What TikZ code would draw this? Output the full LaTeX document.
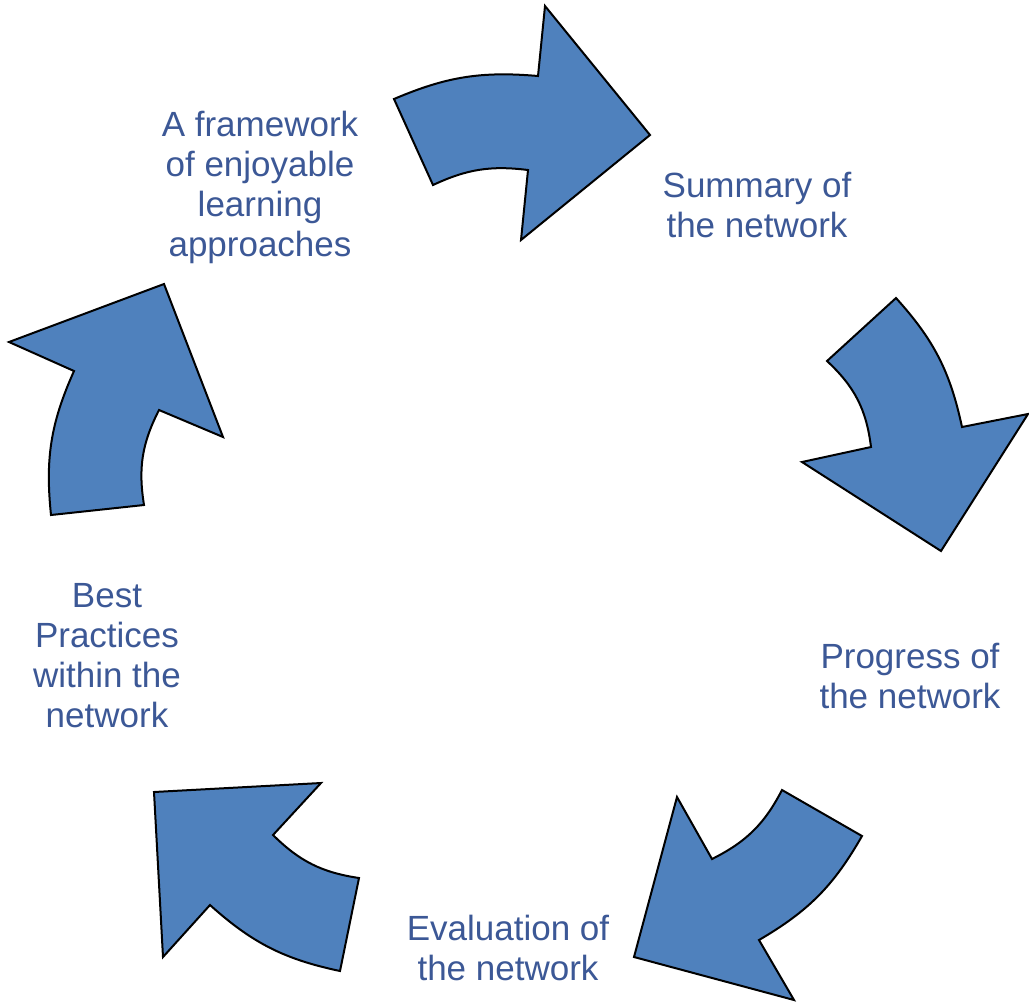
\documentclass[tikz,border=0pt]{standalone}
\usepackage{fontspec}
\setmainfont{Liberation Sans}
\usetikzlibrary{positioning}
\definecolor{arrowblue}{RGB}{79,129,189}
\definecolor{labelblue}{RGB}{60,88,150}

\begin{document}
\begin{tikzpicture}[x=0.5pt, y=-0.5pt,
    cyclearrow/.style={fill=arrowblue, draw=black, line width=1pt, line join=miter},
    steplabel/.style={text=labelblue, align=center, inner sep=0pt,
        font=\fontsize{17.5}{20}\selectfont}]
    \useasboundingbox (0,0) rectangle (1029,1003);

    % Arrows (clockwise)
    \draw[cyclearrow] (394,99) to[bend left=14] (538,76) -- (545,6) -- (650,135)
        -- (521,240) -- (528,170) to[bend right=16] (433,185) -- cycle; % top
    \draw[cyclearrow] (896,298) to[bend left=15] (962,427) -- (1028,414) -- (941,551)
        -- (802,462) -- (871,447) to[bend right=20] (827,361) -- cycle; % right
    \draw[cyclearrow] (862,836) to[bend left=15] (759,940) -- (794,1000) -- (634,957)
        -- (677,797) -- (712,859) to[bend right=18] (782,790) -- cycle; % bottom right
    \draw[cyclearrow] (340,971) to[bend left=15] (210,905) -- (163,957) -- (154,792)
        -- (321,783) -- (273,835) to[bend right=18] (359,878) -- cycle; % bottom left
    \draw[cyclearrow] (51,515) to[bend left=15] (74,371) -- (9,342) -- (164,284)
        -- (223,437) -- (159,410) to[bend right=18] (144,505) -- cycle; % left

    % Labels
    \node[steplabel] (framework) at (260,187) {A framework\\of enjoyable\\learning\\approaches};
    \node[steplabel] (summary) at (757,205) {Summary of\\the network};
    \node[steplabel] (progress) at (910,676) {Progress of\\the network};
    \node[steplabel] (evaluation) at (508,948) {Evaluation of\\the network};
    \node[steplabel] (practices) at (107,656) {Best\\Practices\\within the\\network};
\end{tikzpicture}
\end{document}
